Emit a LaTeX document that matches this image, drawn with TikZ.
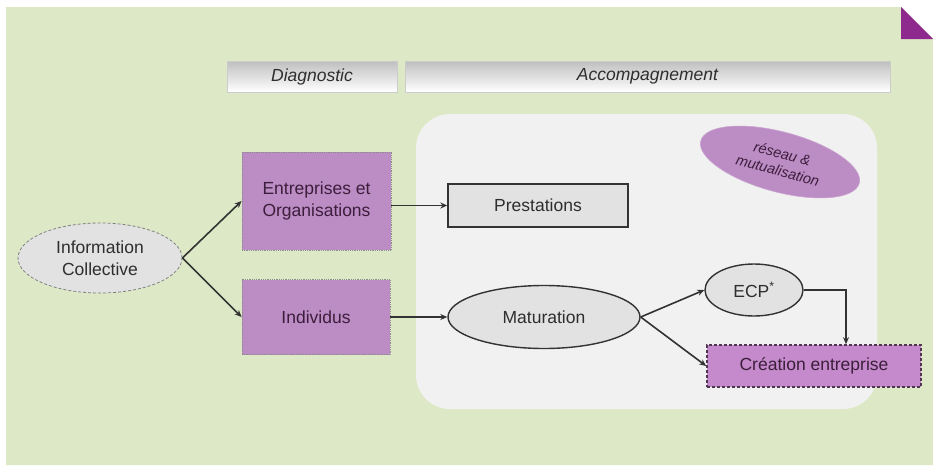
\documentclass[tikz,border=0pt]{standalone}
\usepackage{fontspec}
\setmainfont{Liberation Sans}
\usetikzlibrary{shapes.geometric,arrows.meta}
\definecolor{bggreen}{HTML}{DDE9C6}
\definecolor{boxpurple}{HTML}{BC8CC4}
\definecolor{crepurple}{HTML}{C48ACB}
\definecolor{triPurple}{HTML}{8E2A8E}
\definecolor{lightgray}{HTML}{E2E2E2}
\definecolor{panelgray}{HTML}{F1F1F1}
\definecolor{darktext}{HTML}{3C1E3C}
\definecolor{graytext}{HTML}{2E2E2E}
\tikzset{
  mainfont/.style={font=\fontsize{17.5}{22.5}\selectfont},
  purplebox/.style={rectangle, fill=boxpurple, draw=black!45, densely dotted, line width=0.8pt,
    inner sep=0pt, align=center, text=darktext, mainfont},
  grayell/.style={ellipse, fill=lightgray, draw=black!80, line width=1.4pt, inner sep=0pt,
    text=graytext, mainfont},
  headbar/.style={rectangle, top color=black!25, bottom color=white, draw=black!20, line width=0.6pt,
    inner sep=0pt, text=graytext, font=\fontsize{17.5}{20}\selectfont\itshape},
  conn/.style={line width=1.6pt, draw=black!80, -{Stealth[length=7pt,width=6pt]}},
}
\begin{document}
\begin{tikzpicture}[x=1pt,y=-1pt]
\useasboundingbox (0,0) rectangle (933,466);
\fill[white] (0,0) rectangle (933,466);
\fill[bggreen] (6,7) -- (901,7) -- (933,39) -- (933,465) -- (6,465) -- cycle;
\fill[triPurple] (901,7) -- (901,39) -- (933,39) -- cycle;
% header bars
\node[headbar, minimum width=170pt, minimum height=31pt] (diag) at (312,76.5) {Diagnostic};
\node[headbar, minimum width=485pt, minimum height=31pt] (accomp) at (647.5,76.5) {Accompagnement};
% panel
\fill[panelgray, rounded corners=34pt] (416,114) rectangle (877,409);
% nodes
\node[ellipse, fill=lightgray, draw=black!50, densely dashed, line width=0.8pt, minimum width=164pt, minimum height=70pt,
  inner sep=0pt, align=center, text=graytext, mainfont] (info) at (100,258) {Information\\Collective};
\node[purplebox, minimum width=149pt, minimum height=98pt] (ent) at (316.5,201) {Entreprises et\\Organisations};
\node[purplebox, minimum width=148pt, minimum height=75pt] (ind) at (316,317) {Individus};
\node[rectangle, fill=lightgray, draw=black!80, line width=1.4pt, minimum width=180pt, minimum height=43pt,
  inner sep=0pt, text=graytext, mainfont] (pres) at (538,205.5) {Prestations};
\node[grayell, minimum width=192pt, minimum height=63pt] (mat) at (544,317) {Maturation};
\node[grayell, minimum width=98pt, minimum height=52pt] (ecp) at (754,290) {ECP\textsuperscript{*}};
\node[rectangle, fill=crepurple, draw=darktext!90, dashed, dash pattern=on 3pt off 2pt, line width=1.6pt,
  minimum width=214pt, minimum height=42pt, inner sep=0pt, text=darktext, mainfont] (cre) at (814,366) {Création entreprise};
\node[ellipse, fill=boxpurple, draw=boxpurple!80!white, line width=0.6pt, minimum width=164pt, minimum height=60pt,
  inner sep=0pt, rotate=-15, align=center, text=darktext, font=\fontsize{14.5}{17.5}\selectfont\itshape] (res) at (780,162) {réseau \&\\mutualisation};
% connectors
\draw[conn] (info.east) -- (ent.west);
\draw[conn] (info.east) -- (ind.west);
\draw[conn] (ent.east |- pres.west) -- (pres.west);
\draw[conn] (ind.east) -- (mat.west);
\draw[conn] (mat.east) -- (ecp.west);
\draw[conn] (mat.east) -- (cre.west);
\draw[conn] (ecp.east) -| ([xshift=32pt]cre.north);
\end{tikzpicture}
\end{document}
